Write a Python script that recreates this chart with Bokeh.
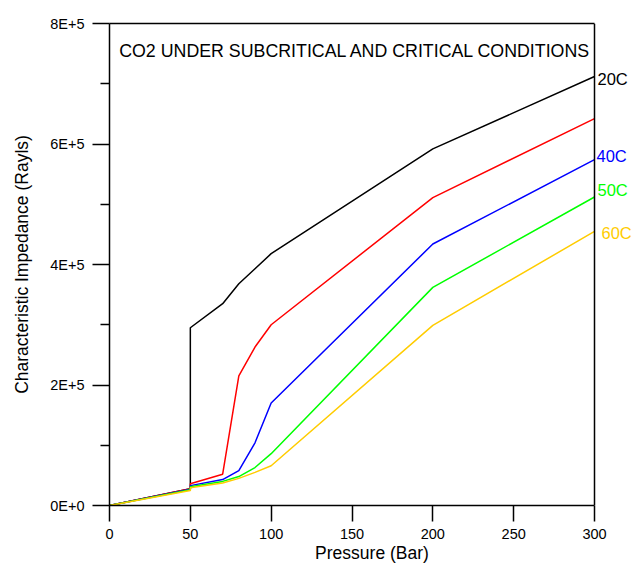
from bokeh.plotting import figure
from bokeh.models import Range1d, FixedTicker, Span, LinearAxis, ColumnDataSource
from bokeh.core.properties import value
from bokeh.embed import file_html
from bokeh.resources import INLINE

# ---- data ----
pressure = [0, 50, 50, 70, 80, 90, 100, 200, 300]
z_20c = [0, 28000, 295000, 335000, 368000, 393000, 418000, 592000, 712000]
z_30c = [0, 28000, 36000, 52000, 215000, 263000, 300000, 511000, 642000]
z_40c = [0, 27000, 33000, 43000, 58000, 104000, 170000, 434000, 574000]
z_50c = [0, 26000, 31000, 40000, 48000, 63000, 86000, 362000, 512000]
z_60c = [0, 25000, 29500, 37500, 45000, 55000, 66000, 299000, 455000]

series_names = ["20C", "30C", "40C", "50C", "60C"]
series_labels = ["20C", "", "40C", "50C", "60C"]
series_colors = ["#000000", "#ff0000", "#0000ff", "#00ff00", "#ffcc00"]

y_major_ticks = [0, 200000, 400000, 600000, 800000]
y_minor_ticks = [100000, 300000, 500000, 700000]
y_tick_labels = ["0E+0", "2E+5", "4E+5", "6E+5", "8E+5"]
x_major_ticks = [0, 50, 100, 150, 200, 250, 300]

title_text = "CO2 UNDER SUBCRITICAL AND CRITICAL CONDITIONS"
FONT = "Liberation Sans"

x_min, x_max = x_major_ticks[0], x_major_ticks[-1]
# extra room on the right of the frame for the end labels
x_view_max = x_max * 525 / 485

p = figure(
    width=634, height=563,
    frame_width=525, frame_height=482,
    output_backend="svg", toolbar_location=None,
    x_range=Range1d(x_min, x_view_max), y_range=Range1d(y_major_ticks[0], y_major_ticks[-1]),
    min_border_left=109, min_border_right=0,
    min_border_top=23, min_border_bottom=58,
)
p.grid.visible = False
p.background_fill_color = "white"
p.border_fill_color = "white"
p.outline_line_color = None

# axes
xa = p.xaxis[0]
xa.ticker = FixedTicker(ticks=x_major_ticks)
xa.bounds = (x_min, x_max)
xa.axis_label = "Pressure (Bar)"
ya = p.yaxis[0]
ya.ticker = FixedTicker(ticks=y_major_ticks, minor_ticks=y_minor_ticks)
ya.major_label_overrides = {t: lab for t, lab in zip(y_major_ticks, y_tick_labels)}
ya.axis_label = "Characteristic Impedance (Rayls)"

for ax in (xa, ya):
    ax.axis_line_color = "black"
    ax.axis_line_width = 1.5
    ax.major_tick_line_color = "black"
    ax.major_tick_line_width = 1.5
    ax.minor_tick_line_color = "black"
    ax.minor_tick_line_width = 1.5
    ax.major_tick_in = 0
    ax.minor_tick_in = 0
    ax.major_label_text_font = FONT
    ax.major_label_text_font_size = "14.5px"
    ax.major_label_text_color = "black"
    ax.axis_label_text_font = FONT
    ax.axis_label_text_font_size = "17.5px"
    ax.axis_label_text_font_style = "normal"
    ax.axis_label_text_color = "black"

xa.major_tick_out = 16
xa.minor_tick_out = 0
xa.major_label_standoff = 7
xa.axis_label_standoff = 1
ya.major_tick_out = 17
ya.minor_tick_out = 9
ya.major_label_standoff = 8
ya.axis_label_standoff = 15

# top border (axis line only)
top = LinearAxis(ticker=FixedTicker(ticks=[]), bounds=(x_min, x_max),
                 axis_line_color="black", axis_line_width=1.5,
                 major_tick_out=0, minor_tick_out=0, major_label_text_font_size="0px")
p.add_layout(top, "above")
# right border of the frame at the last x tick
p.add_layout(Span(location=x_max, dimension="height", line_color="black", line_width=1.5))

# lines
all_series = [z_20c, z_30c, z_40c, z_50c, z_60c]
for name, vals, col in zip(series_names, all_series, series_colors):
    p.line(pressure, vals, line_color=col, line_width=1.5)

# end labels
label_offsets = {"20C": (3, 2), "40C": (2, -4), "50C": (3, -7), "60C": (7, 2)}
lab_src = dict(x=[], y=[], text=[], color=[], dx=[], dy=[])
for lab, vals, col in zip(series_labels, all_series, series_colors):
    if not lab:
        continue
    dx, dy = label_offsets[lab]
    lab_src["x"].append(pressure[-1])
    lab_src["y"].append(vals[-1])
    lab_src["text"].append(lab)
    lab_src["color"].append(col)
    lab_src["dx"].append(dx)
    lab_src["dy"].append(dy)
p.text(x="x", y="y", text="text", text_color="color", x_offset="dx", y_offset="dy",
       source=ColumnDataSource(lab_src), text_font=value(FONT), text_font_size="16.5px",
       text_baseline="middle", text_align="left")

# title inside plot
p.text(x=[6], y=[755000], text=[title_text], text_color="black",
       text_font=value(FONT), text_font_size="17.8px",
       text_baseline="middle", text_align="left")

open("out.html", "w").write(file_html(p, INLINE))
